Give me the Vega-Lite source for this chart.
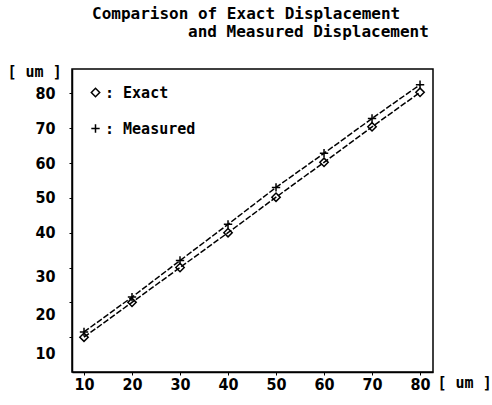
{
  "$schema": "https://vega.github.io/schema/vega-lite/v6.json",
  "width": 361,
  "height": 303,
  "autosize": {"type": "none"},
  "padding": {"left": 72, "top": 69, "right": 59, "bottom": 33},
  "background": "white",
  "view": {"stroke": "black", "strokeWidth": 1.5},
  "title": {
    "text": ["Comparison of Exact Displacement", "\u2800\u2800\u2800\u2800\u2800\u2800\u2800\u2800and Measured Displacement"],
    "anchor": "start",
    "frame": "group",
    "dx": 20,
    "font": "DejaVu Sans Mono",
    "fontSize": 16,
    "fontWeight": "bold",
    "lineHeight": 18,
    "offset": 24,
    "color": "black"
  },
  "data": {
    "values": [
      {"x": 10, "y": 10, "series": "Exact"},
      {"x": 20, "y": 20, "series": "Exact"},
      {"x": 30, "y": 30, "series": "Exact"},
      {"x": 40, "y": 40, "series": "Exact"},
      {"x": 50, "y": 50.2, "series": "Exact"},
      {"x": 60, "y": 60.2, "series": "Exact"},
      {"x": 70, "y": 70.4, "series": "Exact"},
      {"x": 80, "y": 80.3, "series": "Exact"},
      {"x": 10, "y": 11.5, "series": "Measured"},
      {"x": 20, "y": 21.5, "series": "Measured"},
      {"x": 30, "y": 32, "series": "Measured"},
      {"x": 40, "y": 42.4, "series": "Measured"},
      {"x": 50, "y": 53, "series": "Measured"},
      {"x": 60, "y": 62.8, "series": "Measured"},
      {"x": 70, "y": 72.8, "series": "Measured"},
      {"x": 80, "y": 82.5, "series": "Measured"}
    ]
  },
  "encoding": {
    "x": {
      "field": "x",
      "type": "quantitative",
      "scale": {"domain": [7.5, 82.7], "nice": false, "zero": false},
      "axis": {
        "values": [10, 20, 30, 40, 50, 60, 70, 80],
        "grid": false,
        "domainColor": "black",
        "domainWidth": 1.5,
        "tickColor": "black",
        "tickSize": 3,
        "labelPadding": 1,
        "labelFont": "'Liberation Sans Narrow', 'DejaVu Sans Condensed', 'DejaVu Sans'",
        "labelFontSize": 16,
        "labelFontWeight": "bold",
        "labelColor": "black",
        "title": "[ um ]",
        "titleFont": "DejaVu Sans Mono",
        "titleFontSize": 15,
        "titleFontWeight": "bold",
        "titleColor": "black",
        "titleAlign": "left",
        "titleBaseline": "middle",
        "titleAnchor": "start",
        "titleX": 365,
        "titleY": 10
      }
    },
    "y": {
      "field": "y",
      "type": "quantitative",
      "scale": {"domain": [0, 87], "nice": false, "zero": false},
      "axis": {
        "values": [10, 20, 30, 40, 50, 60, 70, 80],
        "grid": false,
        "domainColor": "black",
        "domainWidth": 1.5,
        "tickColor": "black",
        "tickSize": 3,
        "labelPadding": 14,
        "labelFont": "'Liberation Sans Narrow', 'DejaVu Sans Condensed', 'DejaVu Sans'",
        "labelFontSize": 16,
        "labelFontWeight": "bold",
        "labelColor": "black",
        "labelOffset": {
          "condition": [
            {"test": "datum.value == 10", "value": 16},
            {"test": "datum.value == 20", "value": 12},
            {"test": "datum.value == 30", "value": 9}
          ],
          "value": 0
        },
        "title": "[ um ]",
        "titleAngle": 0,
        "titleFont": "DejaVu Sans Mono",
        "titleFontSize": 15,
        "titleFontWeight": "bold",
        "titleColor": "black",
        "titleAlign": "left",
        "titleBaseline": "middle",
        "titleAnchor": "start",
        "titleX": -65,
        "titleY": 2
      }
    }
  },
  "layer": [
    {
      "mark": {"type": "line", "color": "black", "strokeWidth": 1.5, "strokeDash": [6, 2]},
      "encoding": {"detail": {"field": "series", "type": "nominal"}}
    },
    {
      "mark": {"type": "point", "filled": false, "color": "black", "strokeWidth": 1.5, "size": 70, "opacity": 1},
      "encoding": {
        "shape": {
          "field": "series",
          "type": "nominal",
          "scale": {"domain": ["Exact", "Measured"], "range": ["diamond", "M-1,0H1M0,-1V1"]},
          "legend": {
            "title": null,
            "orient": "top-left",
            "offset": 16,
            "padding": 0,
            "labelExpr": "': ' + datum.label",
            "labelFont": "DejaVu Sans Mono",
            "labelFontSize": 15,
            "labelFontWeight": "bold",
            "labelColor": "black",
            "labelOffset": 2,
            "rowPadding": 20,
            "symbolSize": 70,
            "symbolStrokeColor": "black",
            "symbolStrokeWidth": 1.5,
            "symbolFillColor": "transparent"
          }
        }
      }
    }
  ]
}
